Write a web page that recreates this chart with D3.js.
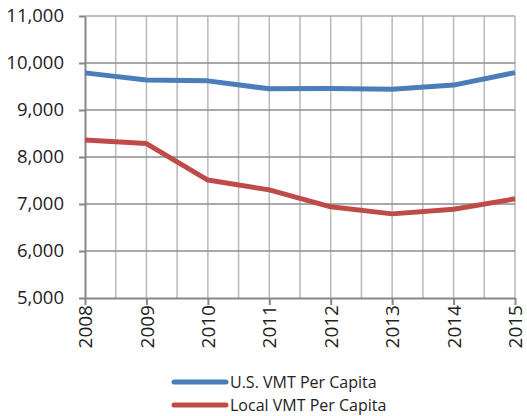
<!DOCTYPE html>
<html>
<head>
<meta charset="utf-8">
<script src="https://cdn.jsdelivr.net/npm/d3@7"></script>
<style>
  body { margin: 0; background: #fff; }
  text { font-family: "Open Sans", sans-serif; fill: #222; }
</style>
</head>
<body>
<script>
WIDTH = 527;
HEIGHT = 416;
MARGIN = ({top: 16, right: 12, bottom: 118, left: 85});

// data
var years = [2008, 2009, 2010, 2011, 2012, 2013, 2014, 2015];
var usVmt = [9790, 9640, 9620, 9450, 9455, 9440, 9530, 9795];
var localVmt = [8360, 8285, 7510, 7300, 6940, 6790, 6890, 7110];
var yTicks = [5000, 6000, 7000, 8000, 9000, 10000, 11000];
var seriesNames = ["U.S. VMT Per Capita", "Local VMT Per Capita"];
var seriesColors = ["#4a7ebb", "#be4b48"];

var fmt = d3.format(",");

var svg = d3.select("body").append("svg")
    .attr("width", WIDTH)
    .attr("height", HEIGHT);

var x = d3.scaleLinear()
    .domain([2008, 2015])
    .range([MARGIN.left, WIDTH - MARGIN.right]);

var y = d3.scaleLinear()
    .domain([5000, 11000])
    .range([HEIGHT - MARGIN.bottom, MARGIN.top]);

// vertical grid, every half year
var halfYears = d3.range(2008.5, 2015.01, 0.5);
svg.append("g")
    .selectAll("line")
    .data(halfYears)
    .enter().append("line")
    .attr("x1", d => x(d)).attr("x2", d => x(d))
    .attr("y1", y(11000)).attr("y2", y(5000))
    .attr("stroke", "#bcbcbc")
    .attr("stroke-width", 1.6);

// horizontal grid
svg.append("g")
    .selectAll("line")
    .data(yTicks.slice(1))
    .enter().append("line")
    .attr("x1", x(2008)).attr("x2", x(2015))
    .attr("y1", d => y(d)).attr("y2", d => y(d))
    .attr("stroke", d => d == 11000 ? "#a8a8a8" : "#8c8c8c")
    .attr("stroke-width", 1.6);

// y axis
var yAxis = g => g
    .attr("transform", `translate(${x(2008)},0)`)
    .call(d3.axisLeft(y).tickValues(yTicks).tickFormat(fmt).tickSize(6).tickPadding(15).tickSizeOuter(0))
    .call(g => g.selectAll(".domain, .tick line").attr("stroke", "#878787").attr("stroke-width", 2))
    .call(g => g.selectAll(".tick text")
        .attr("font-size", 18.5)
        .attr("font-family", "Open Sans, sans-serif")
        .attr("fill", "#222"));

svg.append("g").call(yAxis);

// x axis
var xAxis = g => g
    .attr("transform", `translate(0,${y(5000)})`)
    .call(d3.axisBottom(x).tickValues(years).tickFormat(d3.format("d")).tickSize(7).tickSizeOuter(0))
    .call(g => g.selectAll(".domain, .tick line").attr("stroke", "#878787").attr("stroke-width", 2))
    .call(g => g.selectAll(".tick text")
        .attr("font-size", 19)
        .attr("font-family", "Open Sans, sans-serif")
        .attr("fill", "#222")
        .attr("transform", "rotate(-90)")
        .attr("text-anchor", "end")
        .attr("x", -7)
        .attr("y", 0)
        .attr("dy", "0.35em"));

svg.append("g").call(xAxis);

var line = d3.line()
    .x((d, i) => x(years[i]))
    .y(d => y(d));

[usVmt, localVmt].forEach(function(vals, i) {
    svg.append("path")
        .datum(vals)
        .attr("fill", "none")
        .attr("stroke", seriesColors[i])
        .attr("stroke-width", 5)
        .attr("stroke-linejoin", "round")
        .attr("d", line);
});

// legend
var legend = svg.append("g")
    .selectAll("g")
    .data(seriesNames)
    .enter().append("g")
    .attr("transform", (d, i) => `translate(172,${382 + i * 23})`);

legend.append("line")
    .attr("x1", 2).attr("x2", 54)
    .attr("stroke", (d, i) => seriesColors[i])
    .attr("stroke-width", 5)
    .attr("stroke-linecap", "round");

legend.append("text")
    .attr("x", 58)
    .attr("dy", "0.35em")
    .attr("font-size", 16)
    .text(d => d);
</script>
</body>
</html>
